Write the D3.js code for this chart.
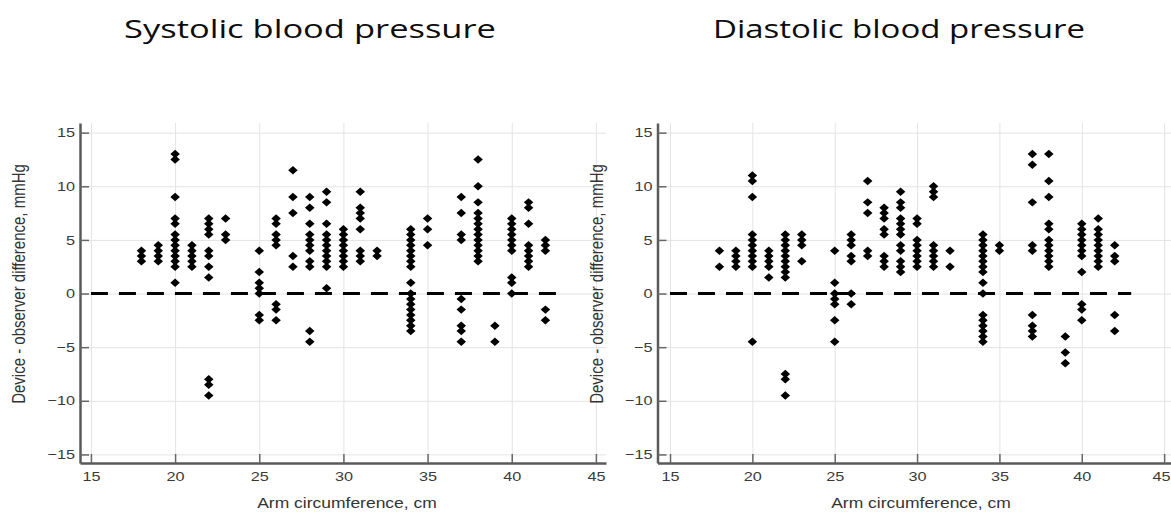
<!DOCTYPE html>
<html>
<head>
<meta charset="utf-8">
<script src="https://cdn.jsdelivr.net/npm/d3@7"></script>
<style>
  body { margin: 0; background: #fff; }
  .tick text { font-family: "Liberation Sans", Arial, sans-serif; font-size: 13px; fill: #3a3a3a; }
</style>
</head>
<body>
<div id="plot"></div>
<script>
// arm circumference columns (cm), shared by both panels
var armCm = [18, 19, 20, 21, 22, 23, 25, 26, 27, 28, 29, 30, 31, 32, 34, 35, 37, 38, 39, 40, 41, 42];

// device - observer difference (mmHg), one list per column
var systolicDiff = [
  [4, 3.5, 3],
  [4.5, 4, 3.5, 3],
  [13, 12.5, 9, 7, 6.5, 5.5, 5, 4.5, 4, 3.5, 3, 2.5, 1],
  [4.5, 4, 3.5, 3, 2.5],
  [7, 6.5, 6, 5.5, 4, 3.5, 2.5, 1.5, -8, -8.5, -9.5],
  [7, 5.5, 5],
  [4, 2, 1, 0.5, 0, -2, -2.5],
  [7, 6.5, 5.5, 5, 4.5, -1, -1.5, -2.5],
  [11.5, 9, 7.5, 3.5, 2.5],
  [9, 8, 6.5, 5.5, 5, 4.5, 4, 3, 2.5, -3.5, -4.5],
  [9.5, 8.5, 6.5, 5.5, 5, 4.5, 4, 3.5, 3, 2.5, 0.5],
  [6, 5.5, 5, 4.5, 4, 3.5, 3, 2.5],
  [9.5, 8, 7.5, 7, 6, 4, 3.5, 3],
  [4, 3.5],
  [6, 5.5, 5, 4.5, 4, 3.5, 3, 2.5, 1, 0, -0.5, -1, -1.5, -2, -2.5, -3, -3.5],
  [7, 6, 4.5],
  [9, 7.5, 5.5, 5, -0.5, -1.5, -3, -3.5, -4.5],
  [12.5, 10, 8.5, 7.5, 7, 6.5, 6, 5.5, 5, 4.5, 4, 3.5, 3],
  [-3, -4.5],
  [7, 6.5, 6, 5.5, 5, 4.5, 4, 1.5, 1, 0],
  [8.5, 8, 6.5, 4.5, 4, 3.5, 3, 2.5],
  [5, 4.5, 4, -1.5, -2.5]
];

var diastolicDiff = [
  [4, 2.5],
  [4, 3.5, 3, 2.5],
  [11, 10.5, 9, 5.5, 5, 4.5, 4, 3.5, 3, 2.5, -4.5],
  [4, 3.5, 3, 2.5, 1.5],
  [5.5, 5, 4.5, 4, 3.5, 3, 2.5, 2, 1.5, -7.5, -8, -9.5],
  [5.5, 5, 4.5, 3],
  [4, 1, 0, -0.5, -1, -2.5, -4.5],
  [5.5, 5, 4.5, 3.5, 3, 0, -1],
  [10.5, 8.5, 7.5, 4, 3.5],
  [8, 7.5, 7, 6, 5.5, 3.5, 3, 2.5],
  [9.5, 8.5, 8, 7, 6.5, 6, 5.5, 4.5, 4, 3, 2.5, 2],
  [7, 6.5, 5, 4.5, 4, 3.5, 3, 2.5],
  [10, 9.5, 9, 4.5, 4, 3.5, 3, 2.5],
  [4, 2.5],
  [5.5, 5, 4.5, 4, 3.5, 3, 2.5, 2, 1, 0, -2, -2.5, -3, -3.5, -4, -4.5],
  [4.5, 4],
  [13, 12, 8.5, 4.5, 4, -2, -3, -3.5, -4],
  [13, 10.5, 9, 6.5, 6, 5, 4.5, 4, 3.5, 3, 2.5],
  [-4, -5.5, -6.5],
  [6.5, 6, 5.5, 5, 4.5, 4, 3.5, 2, -1, -1.5, -2.5],
  [7, 6, 5.5, 5, 4.5, 4, 3.5, 3, 2.5],
  [4.5, 3.5, 3, -2, -3.5]
];

var xTicks = [15, 20, 25, 30, 35, 40, 45];
var yTicks = [-15, -10, -5, 0, 5, 10, 15];
var zeroLineX = [15, 43];
var titles = ["Systolic blood pressure", "Diastolic blood pressure"];
var xLabel = "Arm circumference, cm";
var yLabel = "Device - observer difference, mmHg";

var W = 1171, H = 513;
var stretch = 1.25; // the source picture is widened horizontally

var svg = d3.select("#plot").append("svg")
  .attr("width", W).attr("height", H)
  .style("background", "#fff");

var y = d3.scaleLinear().domain([-15.8, 15.9]).range([463, 123]);

var panels = [
  {values: systolicDiff, title: titles[0], range: [80, 606], domain: [14.35, 45.6], titleX: 310, yLabX: 25, xLabX: 347},
  {values: diastolicDiff, title: titles[1], range: [657.5, 1174], domain: [14.24, 45.6], titleX: 899, yLabX: 603, xLabX: 921}
];

panels.forEach(function(p) {
  var x = d3.scaleLinear().domain(p.domain).range(p.range);
  var g = svg.append("g");

  // grid
  g.append("g")
    .attr("transform", "translate(" + p.range[0] + ",0)")
    .call(d3.axisLeft(y).tickValues(yTicks).tickSize(-(p.range[1] - p.range[0])).tickFormat(""))
    .call(function(s) {
      s.select(".domain").remove();
      s.selectAll("line").attr("stroke", "#e3e3e3").attr("stroke-width", 1);
    });
  g.append("g")
    .attr("transform", "translate(0,463)")
    .call(d3.axisBottom(x).tickValues(xTicks).tickSize(-340).tickFormat(""))
    .call(function(s) {
      s.select(".domain").remove();
      s.selectAll("line").attr("stroke", "#e3e3e3").attr("stroke-width", 1);
    });

  // zero reference line
  g.append("path")
    .datum(zeroLineX)
    .attr("d", d3.line().x(function(d) { return x(d); }).y(y(0)))
    .attr("stroke", "#000")
    .attr("stroke-width", 3)
    .attr("stroke-dasharray", "17,11")
    .attr("fill", "none");

  // points
  var pts = [];
  armCm.forEach(function(c, i) {
    p.values[i].forEach(function(v) { pts.push({x: c, y: v}); });
  });
  g.append("g").selectAll("path")
    .data(pts)
    .enter()
    .append("path")
      .attr("d", d3.symbol(d3.symbolSquare, 36))
      .attr("transform", function(d) { return "translate(" + x(d.x) + "," + y(d.y) + ") scale(1.12,1) rotate(45)"; })
      .attr("fill", "#000");

  // axes
  var ya = g.append("g")
    .attr("transform", "translate(" + p.range[0] + ",0)")
    .call(d3.axisLeft(y).tickValues(yTicks).tickSize(-9).tickSizeOuter(0).tickPadding(4));
  var xa = g.append("g")
    .attr("transform", "translate(0,463)")
    .call(d3.axisBottom(x).tickValues(xTicks).tickSize(-9).tickSizeOuter(0).tickPadding(9));
  [ya, xa].forEach(function(a) {
    a.select(".domain").attr("stroke", "#5a5a5a").attr("stroke-width", 2.5);
    a.selectAll(".tick line").attr("stroke", "#666").attr("stroke-width", 1.5);
    a.selectAll(".tick text").attr("transform", "scale(" + stretch + ",1)");
  });
  // keep the last x tick label inside the page
  xa.selectAll(".tick text").filter(function(d) { return x(d) + 12 > W; })
    .attr("text-anchor", "end")
    .attr("x", (W - 1 - x(45)) / stretch);

  // title
  svg.append("text")
    .attr("x", p.titleX).attr("y", 38)
    .attr("text-anchor", "middle")
    .attr("textLength", 372).attr("lengthAdjust", "spacingAndGlyphs")
    .style("font-family", "'Open Sans', sans-serif")
    .style("font-size", "26px")
    .attr("fill", "#0d0d0d")
    .text(p.title);

  // axis labels
  svg.append("text")
    .attr("transform", "translate(" + p.xLabX + ",508) scale(" + stretch + ",1)")
    .attr("text-anchor", "middle")
    .style("font-family", "'Liberation Sans', Arial, sans-serif")
    .style("font-size", "14px")
    .attr("fill", "#333")
    .text(xLabel);
  svg.append("text")
    .attr("transform", "translate(" + p.yLabX + ",284) scale(" + stretch + ",1) rotate(-90)")
    .attr("text-anchor", "middle")
    .style("font-family", "'Liberation Sans', Arial, sans-serif")
    .style("font-size", "15px")
    .attr("fill", "#333")
    .text(yLabel);
});
</script>
</body>
</html>
